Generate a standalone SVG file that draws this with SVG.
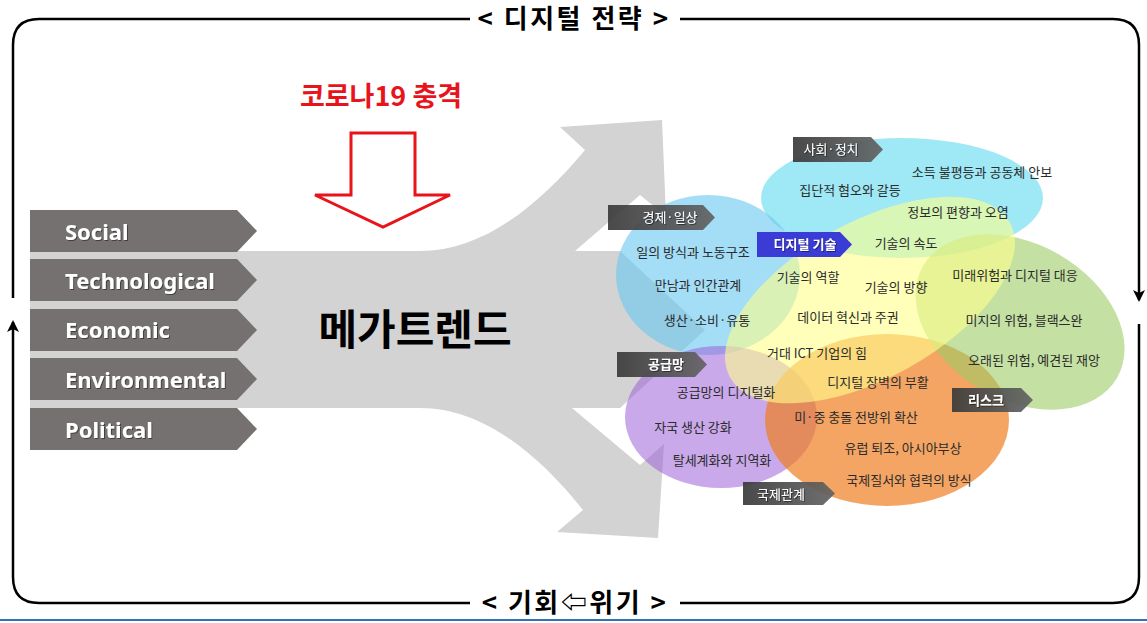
<svg xmlns="http://www.w3.org/2000/svg" width="1147" height="623" viewBox="0 0 1147 623">
<defs>
<marker id="ah" markerWidth="12" markerHeight="12" refX="10" refY="6" orient="auto" markerUnits="userSpaceOnUse">
<path d="M0,0 L12,6 L0,12 L3,6 Z" fill="#000"/>
</marker>
<filter id="sh" x="-5%" y="-20%" width="110%" height="140%">
<feDropShadow dx="1" dy="1" stdDeviation="0.6" flood-color="#000" flood-opacity="0.45"/>
</filter>
<linearGradient id="tagg" x1="0" y1="0" x2="1" y2="0">
<stop offset="0" stop-color="#3a3a3a"/>
<stop offset="1" stop-color="#636363"/>
</linearGradient>
</defs>
<style>
.frame{fill:none;stroke:#000;stroke-width:2.5}
.title{font-family:"Noto Sans CJK KR","DejaVu Sans",sans-serif;font-weight:700;font-size:26px;fill:#000;text-anchor:middle;letter-spacing:2.5px}
.pest{fill:#767171}
.pestt{font-family:"Noto Sans","Open Sans",sans-serif;font-weight:700;font-size:22px;fill:#fff;filter:url(#sh)}
.tag{fill:url(#tagg);opacity:0.92}
.tagt{font-family:"Noto Sans CJK KR",sans-serif;font-size:13px;fill:#fff;text-anchor:middle;filter:url(#sh)}
.lbl{font-family:"Noto Sans CJK KR",sans-serif;font-size:13px;fill:#2b2b2b;text-anchor:middle}
</style>
<rect x="0" y="0" width="1147" height="623" fill="#fff"/>

<g id="flow-arrow">
<path d="M30,251 L420,251 C480,251 535,210 585,150 L560,127 L662,120 L666,216 L640,195 L575,251 L620,251 L705,330 L620,408 L572,408 L640,465 L664,444 L658,538 L557,532 L583,510 C535,450 480,408 420,408 L30,408 Z" fill="#d3d3d3"/>
<text x="415" y="345" font-family="'Noto Sans CJK KR',sans-serif" font-weight="700" font-size="42" text-anchor="middle" fill="#000">메가트렌드</text>
</g>

<g id="covid">
<text x="381" y="106" font-family="'Noto Sans CJK KR',sans-serif" font-weight="700" font-size="27" text-anchor="middle" fill="#e8141c">코로나19 충격</text>
<path d="M351,133 L415,133 L415,195 L450,195 L383,227 L315,195 L351,195 Z" fill="#fff" stroke="#e8141c" stroke-width="3" stroke-linejoin="miter"/>
</g>

<g id="pest">
<g id="p-social"><path class="pest" d="M30,210 L237,210 L257,231 L237,252 L30,252 Z"/><text class="pestt" x="65" y="240">Social</text></g>
<g id="p-tech"><path class="pest" d="M30,259 L237,259 L257,280 L237,301 L30,301 Z"/><text class="pestt" x="65" y="289">Technological</text></g>
<g id="p-econ"><path class="pest" d="M30,309 L237,309 L257,330 L237,351 L30,351 Z"/><text class="pestt" x="65" y="338">Economic</text></g>
<g id="p-env"><path class="pest" d="M30,358 L237,358 L257,379 L237,400 L30,400 Z"/><text class="pestt" x="65" y="388">Environmental</text></g>
<g id="p-pol"><path class="pest" d="M30,408 L237,408 L257,429 L237,450 L30,450 Z"/><text class="pestt" x="65" y="438">Political</text></g>
</g>

<g id="ellipses">
<ellipse id="e-society" cx="902" cy="198" rx="141" ry="60" fill="#7fe0f2" opacity="0.75"/>
<ellipse id="e-economy" cx="708" cy="275" rx="92" ry="80" fill="#6cc8f0" opacity="0.62"/>
<ellipse id="e-supply" cx="721" cy="417" rx="96" ry="71" fill="#9d62d8" opacity="0.55"/>
<ellipse id="e-intl" cx="887" cy="420" rx="122" ry="86" fill="#f07f22" opacity="0.7"/>
<ellipse id="e-risk" cx="1020" cy="322" rx="112" ry="78" transform="rotate(30 1020 322)" fill="#9ccc65" opacity="0.6"/>
<ellipse id="e-digital" cx="870" cy="300" rx="160" ry="78" transform="rotate(-29 870 300)" fill="#ffff8c" opacity="0.6"/>
</g>

<g id="tags">
<g id="t-society"><path class="tag" d="M793,137 L871,137 L883,149.5 L871,162 L793,162 Z"/><text class="tagt" x="831" y="154">사회·정치</text></g>
<g id="t-economy"><path class="tag" d="M608,205 L703,205 L715,217.5 L703,230 L608,230 Z"/><text class="tagt" x="670" y="222">경제·일상</text></g>
<g id="t-digital"><path d="M757,232 L840,232 L852,244.5 L840,257 L757,257 Z" fill="#3b3bd6"/><text class="tagt" x="805" y="249" font-weight="700">디지털 기술</text></g>
<g id="t-supply"><path class="tag" d="M617,352 L695,352 L707,364.5 L695,377 L617,377 Z"/><text class="tagt" x="666" y="369" font-weight="700">공급망</text></g>
<g id="t-risk"><path class="tag" d="M952,388 L1021,388 L1033,400 L1021,412 L952,412 Z"/><text class="tagt" x="986" y="405" font-weight="700">리스크</text></g>
<g id="t-intl"><path class="tag" d="M743,482 L823,482 L835,493.5 L823,505 L743,505 Z"/><text class="tagt" x="781" y="499">국제관계</text></g>
</g>

<g id="labels">
<text class="lbl" x="982" y="177">소득 불평등과 공동체 안보</text>
<text class="lbl" x="850" y="195">집단적 혐오와 갈등</text>
<text class="lbl" x="958" y="217">정보의 편향과 오염</text>
<text class="lbl" x="906" y="248">기술의 속도</text>
<text class="lbl" x="693" y="257">일의 방식과 노동구조</text>
<text class="lbl" x="808" y="282">기술의 역할</text>
<text class="lbl" x="896" y="292">기술의 방향</text>
<text class="lbl" x="1015" y="280">미래위험과 디지털 대응</text>
<text class="lbl" x="698" y="290">만남과 인간관계</text>
<text class="lbl" x="848" y="322">데이터 혁신과 주권</text>
<text class="lbl" x="1024" y="325">미지의 위험, 블랙스완</text>
<text class="lbl" x="707" y="325">생산·소비·유통</text>
<text class="lbl" x="817" y="358">거대 ICT 기업의 힘</text>
<text class="lbl" x="1034" y="365">오래된 위험, 예견된 재앙</text>
<text class="lbl" x="726" y="397">공급망의 디지털화</text>
<text class="lbl" x="878" y="387">디지털 장벽의 부활</text>
<text class="lbl" x="856" y="422">미·중 충돌 전방위 확산</text>
<text class="lbl" x="693" y="432">자국 생산 강화</text>
<text class="lbl" x="903" y="453">유럽 퇴조, 아시아부상</text>
<text class="lbl" x="722" y="465">탈세계화와 지역화</text>
<text class="lbl" x="909" y="485">국제질서와 협력의 방식</text>
</g>

<g id="connectors">
<path class="frame" d="M13,298 L13,45 Q13,19 39,19 L470,19"/>
<path class="frame" d="M680,19 L1113,19 Q1139,19 1139,45 L1139,300" marker-end="url(#ah)"/>
<path class="frame" d="M1139,324 L1139,577 Q1139,603 1113,603 L680,603"/>
<path class="frame" d="M470,603 L39,603 Q13,603 13,577 L13,322" marker-end="url(#ah)"/>
</g>

<g id="frame-titles">
<text class="title" x="574" y="28">&lt; 디지털 전략 &gt;</text>
<text class="title" x="575" y="612">&lt; 기회⇦위기 &gt;</text>
</g>

<line x1="0" y1="620" x2="1147" y2="620" stroke="#2f75b5" stroke-width="2"/>
</svg>
